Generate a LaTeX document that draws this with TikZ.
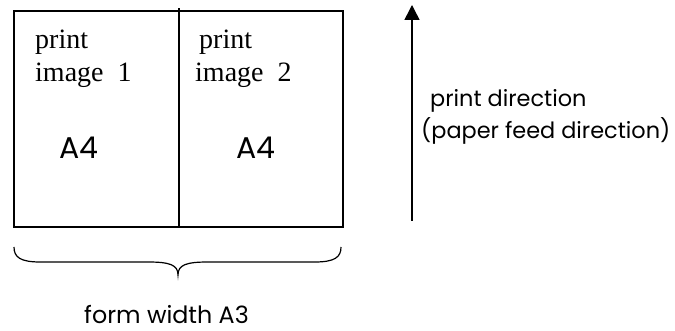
\documentclass[tikz,border=0pt]{standalone}
\usepackage{fontspec}
\setmainfont{Liberation Serif}
\newfontfamily\fut{Poppins}
\usetikzlibrary{arrows.meta}
\begin{document}
\begin{tikzpicture}[x=1pt,y=1pt,
  frame/.style={line width=1.5pt},
  serif/.style={anchor=base west,inner sep=0pt,font=\fontsize{28}{33}\selectfont},
  sanslab/.style={anchor=base west,inner sep=0pt,font=\fut\fontsize{22.4}{27}\selectfont},
  formlab/.style={anchor=base west,inner sep=0pt,text depth=0pt,font=\fut\fontsize{23.8}{28}\selectfont},
  bigsans/.style={anchor=base west,inner sep=0pt,font=\fut\fontsize{30}{36}\selectfont}]
\useasboundingbox (0,0) rectangle (675,331);
% form box
\node[frame,draw,minimum width=329pt,minimum height=216pt,inner sep=0pt,anchor=south west] (form) at (13,103) {};
\coordinate (divtop) at (179,323);
\coordinate (divbot) at (179,103);
\draw[frame] (divbot) -- (divtop);
% texts
\node[serif] (p1) at (35,282) {print};
\node[serif] (i1) at (35,249) {image\ \ 1};
\node[serif] (p2) at (199,282) {print};
\node[serif] (i2) at (195,249) {image\ \ 2};
\node[bigsans] (a1) at (59,172) {A4};
\node[bigsans] (a2) at (236,172) {A4};
% brace
\coordinate (bl) at (14,84);
\coordinate (br) at (341,84);
\coordinate (tip) at (178,56);
\draw[line width=1.2pt] (bl) .. controls (14,74) and (20,69) .. (40,69) -- (148,69)
  .. controls (170,69) and (178,66) .. (tip)
  .. controls (178,66) and (186,69) .. (208,69) -- (315,69)
  .. controls (335,69) and (341,74) .. (br);
\node[formlab] (fw) at (84,7) {form width A3};
% arrow
\coordinate (abot) at (412,110);
\coordinate (atop) at (412,326);
\draw[line width=1.5pt,-{Triangle[length=15pt,width=15pt]}] (abot) -- (atop);
\node[sanslab] (pd) at (430,224) {print direction};
\node[sanslab] (pf) at (421,192) {(paper feed direction)};
\end{tikzpicture}
\end{document}
